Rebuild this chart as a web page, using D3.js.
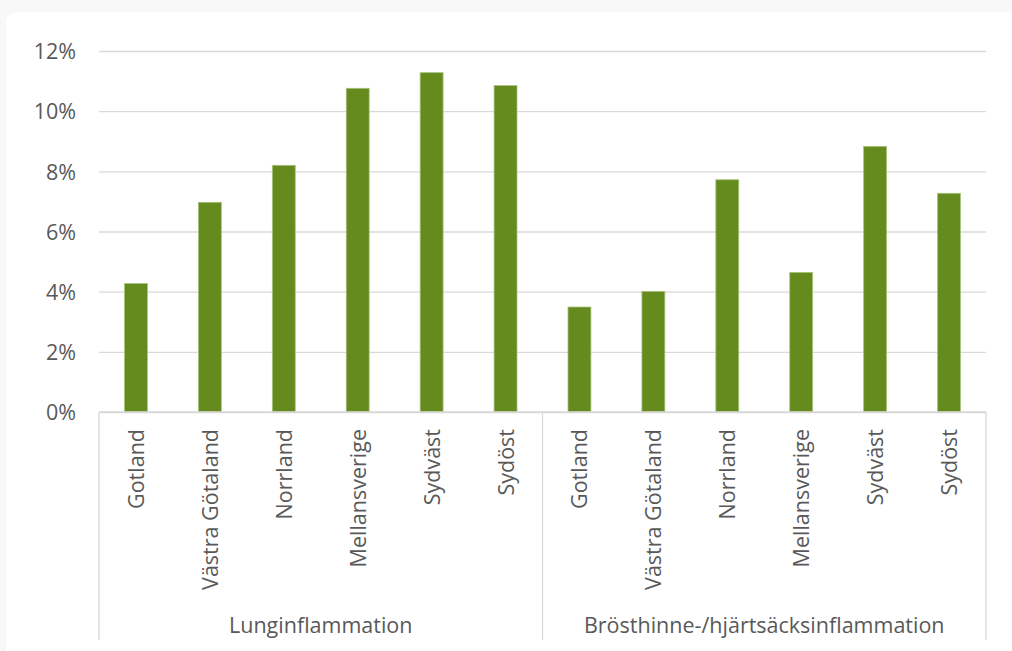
<!DOCTYPE html>
<html>
<head>
<meta charset="utf-8">
<script src="https://cdn.jsdelivr.net/npm/d3@7"></script>
<style>
  html, body { margin: 0; padding: 0; background: #f8f8f8; }
  svg { display: block; }
  text { font-family: "Open Sans", "Noto Sans", sans-serif; fill: #595959; }
</style>
</head>
<body>
<svg id="chart" width="1012" height="651"></svg>
<script>
// Regions shown in each disease group
const regions = ["Gotland", "Västra Götaland", "Norrland", "Mellansverige", "Sydväst", "Sydöst"];
// Disease groups along the x axis
const groups = ["Lunginflammation", "Brösthinne-/hjärtsäcksinflammation"];
// Share (%) per region, one array per group
const lunginflammation = [4.27, 6.97, 8.20, 10.76, 11.28, 10.85];
const brosthinne = [3.49, 4.01, 7.72, 4.64, 8.83, 7.27];
// Y axis ticks (%)
const yTicks = [0, 2, 4, 6, 8, 10, 12];

const seriesByGroup = [lunginflammation, brosthinne];
const rows = [];
groups.forEach((g, gi) => {
  regions.forEach((r, ri) => {
    rows.push({ key: g + "|" + r, group: g, region: r, value: seriesByGroup[gi][ri] });
  });
});

const svg = d3.select("#chart");
const W = 1012, H = 651;
const fontSize = 21.5;

// White card on light grey page
svg.append("rect")
  .attr("x", 6).attr("y", 12)
  .attr("width", W + 20).attr("height", H + 20)
  .attr("rx", 10).attr("ry", 10)
  .attr("fill", "#ffffff");

const plotLeft = 99, plotRight = 986, plotTop = 51, base = 412, axisBottom = 640;

const x = d3.scaleBand()
  .domain(rows.map(d => d.key))
  .range([plotLeft, plotRight])
  .paddingInner(0.69)
  .paddingOuter(0.345);

const xGroup = d3.scaleBand()
  .domain(groups)
  .range([plotLeft, plotRight]);

const y = d3.scaleLinear()
  .domain([0, 12])
  .range([base, plotTop]);

// Horizontal gridlines and tick labels
const yAxis = d3.axisLeft(y)
  .tickValues(yTicks)
  .tickSize(-(plotRight - plotLeft))
  .tickPadding(23)
  .tickFormat(d => d + "%");

const gy = svg.append("g")
  .attr("transform", `translate(${plotLeft},0)`)
  .call(yAxis);
gy.select(".domain").remove();
gy.selectAll(".tick line")
  .attr("stroke", "#d9d9d9")
  .attr("stroke-width", 1.3);
gy.selectAll(".tick text")
  .style("font-size", fontSize + "px")
  .style("fill", "#595959")
  .style("font-family", "'Open Sans', 'Noto Sans', sans-serif")
  .attr("dy", "0.36em");

// Bars
svg.append("g")
  .selectAll("rect")
  .data(rows)
  .join("rect")
  .attr("x", d => x(d.key))
  .attr("width", x.bandwidth())
  .attr("y", d => y(d.value))
  .attr("height", d => base - y(d.value))
  .attr("fill", "#658a1e")
  .attr("stroke", "#a9c27c")
  .attr("stroke-width", 0.8);

// Category axis line
svg.append("line")
  .attr("x1", plotLeft).attr("x2", plotRight)
  .attr("y1", base).attr("y2", base)
  .attr("stroke", "#d9d9d9")
  .attr("stroke-width", 1.3);

// Group separators
const seps = [plotLeft, ...groups.map(g => xGroup(g) + xGroup.bandwidth())];
svg.append("g")
  .selectAll("line")
  .data(seps)
  .join("line")
  .attr("x1", d => d).attr("x2", d => d)
  .attr("y1", base).attr("y2", axisBottom)
  .attr("stroke", "#d9d9d9")
  .attr("stroke-width", 1.3);

// Region labels, rotated
svg.append("g")
  .selectAll("text")
  .data(rows)
  .join("text")
  .attr("transform", d => `translate(${x(d.key) + x.bandwidth() / 2 + 8},429) rotate(-90)`)
  .attr("text-anchor", "end")
  .style("font-size", fontSize + "px")
  .text(d => d.region);

// Group labels
svg.append("g")
  .selectAll("text")
  .data(groups)
  .join("text")
  .attr("x", d => xGroup(d) + xGroup.bandwidth() / 2)
  .attr("y", 633)
  .attr("text-anchor", "middle")
  .style("font-size", fontSize + "px")
  .text(d => d);
</script>
</body>
</html>
